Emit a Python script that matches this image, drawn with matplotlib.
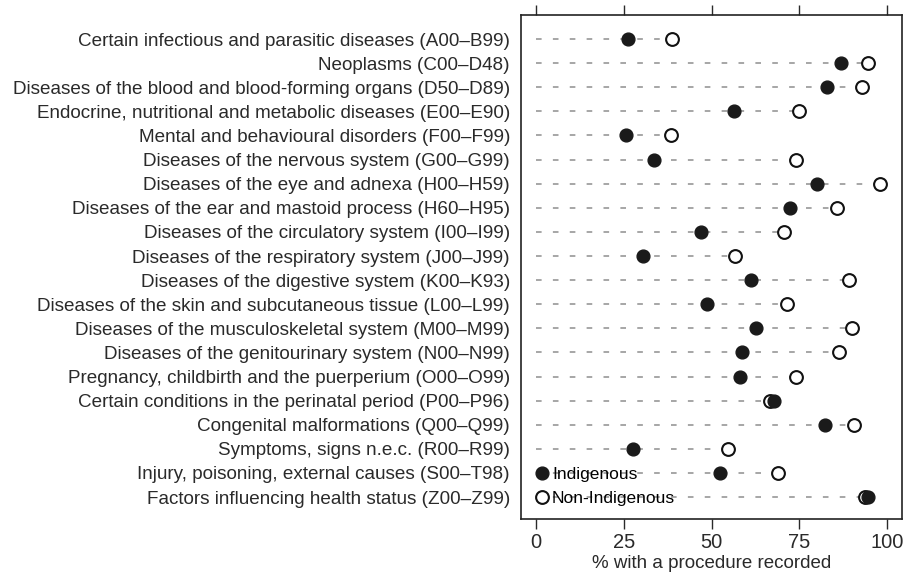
import numpy as np
import matplotlib
matplotlib.use("Agg")
import matplotlib.pyplot as plt

plt.rcParams['font.family'] = ['Liberation Sans', 'DejaVu Sans']

# ICD-10 chapters, top to bottom
categories = [
    "Certain infectious and parasitic diseases (A00–B99)",
    "Neoplasms (C00–D48)",
    "Diseases of the blood and blood-forming organs (D50–D89)",
    "Endocrine, nutritional and metabolic diseases (E00–E90)",
    "Mental and behavioural disorders (F00–F99)",
    "Diseases of the nervous system (G00–G99)",
    "Diseases of the eye and adnexa (H00–H59)",
    "Diseases of the ear and mastoid process (H60–H95)",
    "Diseases of the circulatory system (I00–I99)",
    "Diseases of the respiratory system (J00–J99)",
    "Diseases of the digestive system (K00–K93)",
    "Diseases of the skin and subcutaneous tissue (L00–L99)",
    "Diseases of the musculoskeletal system (M00–M99)",
    "Diseases of the genitourinary system (N00–N99)",
    "Pregnancy, childbirth and the puerperium (O00–O99)",
    "Certain conditions in the perinatal period (P00–P96)",
    "Congenital malformations (Q00–Q99)",
    "Symptoms, signs n.e.c. (R00–R99)",
    "Injury, poisoning, external causes (S00–T98)",
    "Factors influencing health status (Z00–Z99)",
]

# % with a procedure recorded
indigenous = [26.1, 86.8, 82.8, 56.3, 25.7, 33.7, 80.1, 72.4, 47.1, 30.5,
              61.3, 48.8, 62.6, 58.8, 58.1, 67.8, 82.2, 27.5, 52.4, 94.7]
non_indigenous = [38.7, 94.7, 93.0, 75.0, 38.5, 74.2, 97.9, 85.7, 70.7, 56.6,
                  89.2, 71.4, 90.1, 86.3, 74.1, 66.7, 90.7, 54.7, 68.8, 93.7]

xticks = [0, 25, 50, 75, 100]

ypos = np.arange(1, len(categories) + 1)
row_max = np.maximum(indigenous, non_indigenous)

fig = plt.figure(figsize=(9.13, 5.76), dpi=100)
ax = fig.add_axes([0.5707, 0.099, 0.4173, 0.875])

# dashed guide lines from 0 to the larger value
ax.hlines(ypos, 0, row_max, colors='#a3a3a3', linestyles=(0, (3.0, 6.0)),
          linewidth=1.35, zorder=1)

ax.plot(non_indigenous, ypos, 'o', ms=9.2, mfc='white', mec='#111111', mew=1.5,
        ls='none', zorder=3, label='Non-Indigenous')
ax.plot(indigenous, ypos, 'o', ms=9.2, mfc='#1a1a1a', mec='#1a1a1a', mew=1.0,
        ls='none', zorder=4, label='Indigenous')

ax.set_xlim(-4.3, 104.3)
ax.set_ylim(20.91, 0)
ax.set_yticks(ypos)
ax.set_yticklabels(categories, fontsize=13.6, color='#2a2a2a')
ax.tick_params(axis='y', length=0, pad=8)
ax.set_xticks(xticks)
ax.tick_params(axis='x', top=True, direction='out', length=7, width=1,
               labelsize=14.5, colors='#2a2a2a', pad=3)
ax.set_xlabel('% with a procedure recorded', fontsize=13.5, color='#2a2a2a', labelpad=2)

for s in ax.spines.values():
    s.set_linewidth(1.2)
    s.set_color('#222222')

h, l = ax.get_legend_handles_labels()
ax.legend(h[::-1], l[::-1], loc='lower left', frameon=False, fontsize=12.5,
          handletextpad=0.05, handlelength=1.0, borderaxespad=0.53,
          labelspacing=0.5, borderpad=0.2, markerscale=1.0)

fig.savefig('out.png', dpi=100)
